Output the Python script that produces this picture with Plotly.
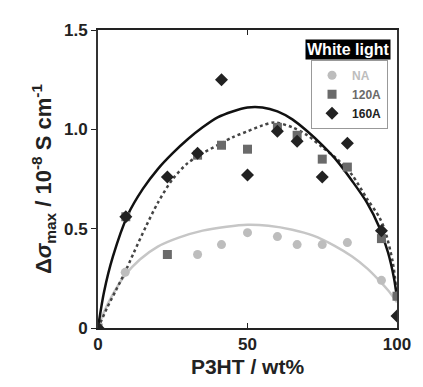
import plotly.graph_objects as go

# Measured data
x_na = [0, 9.1, 33.3, 41.3, 50, 60, 66.6, 75, 83.4, 94.8, 100]
y_na = [0, 0.28, 0.37, 0.42, 0.48, 0.46, 0.42, 0.42, 0.43, 0.24, 0.16]

x_120 = [0, 9.3, 23.2, 33.3, 41.3, 50, 60, 66.6, 75, 83.4, 94.8, 100]
y_120 = [0, 0.56, 0.37, 0.87, 0.92, 0.90, 1.01, 0.97, 0.85, 0.81, 0.45, 0.16]

x_160 = [0, 9.3, 23.2, 33.3, 41.3, 50, 60, 66.6, 75, 83.4, 94.8, 100]
y_160 = [0, 0.56, 0.76, 0.88, 1.25, 0.77, 0.99, 0.94, 0.76, 0.93, 0.49, 0.06]

# Fit curves
x_fit160 = [0, 2, 5, 10, 15, 20, 25, 30, 35, 40, 45, 50, 55, 60, 65, 70, 75, 80, 85, 90, 94, 97, 99, 100]
y_fit160 = [0, 0.18, 0.36, 0.57, 0.70, 0.80, 0.88, 0.95, 1.01, 1.06, 1.09, 1.11, 1.11, 1.09, 1.05, 0.99, 0.92, 0.84, 0.74, 0.63, 0.51, 0.38, 0.25, 0.15]

x_fit120 = [0, 3, 6, 9, 12, 16, 20, 25, 30, 35, 40, 45, 50, 55, 59, 65, 70, 75, 80, 85, 90, 94, 96, 98.6, 100]
y_fit120 = [0, 0.10, 0.19, 0.28, 0.38, 0.51, 0.63, 0.75, 0.83, 0.88, 0.92, 0.96, 0.99, 1.02, 1.035, 1.01, 0.97, 0.91, 0.85, 0.77, 0.65, 0.56, 0.49, 0.33, 0.16]

x_fitna = [0, 2, 5, 9, 14, 20, 27, 35, 43, 50, 57, 65, 72, 79, 85, 90, 94, 97, 100]
y_fitna = [0, 0.08, 0.17, 0.265, 0.345, 0.41, 0.455, 0.49, 0.51, 0.52, 0.515, 0.495, 0.465, 0.415, 0.36, 0.30, 0.24, 0.19, 0.13]

y_ticks = [0, 0.5, 1.0, 1.5]
y_ticklabels = ["0", "0.5", "1.0", "1.5"]
x_ticks = [0, 50, 100]
x_ticklabels = ["0", "50", "100"]

C_NA = "#bdbdbd"
C_120 = "#6a6a6a"
C_160 = "#222222"

fig = go.Figure()
fig.add_trace(go.Scatter(x=x_fitna, y=y_fitna, mode="lines",
                         line=dict(color="#c6c6c6", width=2.5, shape="spline", smoothing=0.8), showlegend=False))
fig.add_trace(go.Scatter(x=x_fit120, y=y_fit120, mode="lines",
                         line=dict(color="#444444", width=2.5, dash="dot", shape="spline", smoothing=0.8), showlegend=False))
fig.add_trace(go.Scatter(x=x_fit160, y=y_fit160, mode="lines",
                         line=dict(color="#111111", width=2.5, shape="spline", smoothing=0.8), showlegend=False))

fig.add_trace(go.Scatter(x=x_na, y=y_na, mode="markers", name="<span style='color:#bdbdbd'>NA</span>",
                         marker=dict(symbol="circle", size=9, color=C_NA)))
fig.add_trace(go.Scatter(x=x_120, y=y_120, mode="markers", name="<span style='color:#6a6a6a'>120A</span>",
                         marker=dict(symbol="square", size=9, color=C_120)))
fig.add_trace(go.Scatter(x=x_160, y=y_160, mode="markers", name="<span style='color:#222222'>160A</span>",
                         marker=dict(symbol="diamond", size=10, color=C_160)))

font = "Liberation Sans, Arial, sans-serif"
fig.update_layout(
    width=423, height=387,
    margin=dict(l=98, r=17, t=30, b=54),
    paper_bgcolor="white", plot_bgcolor="white",
    font=dict(family=font, color="#222222"),
    legend=dict(x=0.97, y=0.9, xanchor="right", yanchor="top",
                bordercolor="#999999", borderwidth=1, bgcolor="white",
                font=dict(size=12, family=font, weight="bold"),
                itemwidth=30, tracegroupgap=0),
    annotations=[dict(text="<b>White light</b>", x=0.98, y=0.97, xref="paper", yref="paper",
                      xanchor="right", yanchor="top", showarrow=False,
                      bgcolor="black", font=dict(color="white", size=16, family=font),
                      borderpad=1)],
    yaxis2=dict(range=[0, 1.5], overlaying="y", side="right", anchor="x",
                tickvals=y_ticks, showticklabels=False, ticks="inside", ticklen=5,
                tickcolor="#222222", showgrid=False, zeroline=False, showline=False),
)
fig.update_xaxes(range=[0, 100], tickvals=x_ticks, ticktext=x_ticklabels,
                 showgrid=False, zeroline=False, showline=True, linecolor="#222222", linewidth=2,
                 mirror="ticks", ticks="inside", ticklen=5, tickcolor="#222222",
                 tickfont=dict(size=17, family=font, weight="bold", color="#222222"),
                 title=dict(text="<b>P3HT / wt%</b>", font=dict(size=21, family=font), standoff=6))
fig.layout.yaxis.update(range=[0, 1.5], tickvals=y_ticks, ticktext=y_ticklabels,
                        showgrid=False, zeroline=False, showline=True, linecolor="#333333", linewidth=2,
                        mirror=True, ticks="outside", ticklen=5, tickcolor="#222222",
                        tickfont=dict(size=17, family=font, weight="bold", color="#222222"),
                        title=dict(text="<b>Δ<i>σ</i><sub>max</sub> / 10<sup>-8</sup> S cm<sup>-1</sup></b>",
                                   font=dict(size=22, family=font), standoff=6))

fig.write_html("out.html")
